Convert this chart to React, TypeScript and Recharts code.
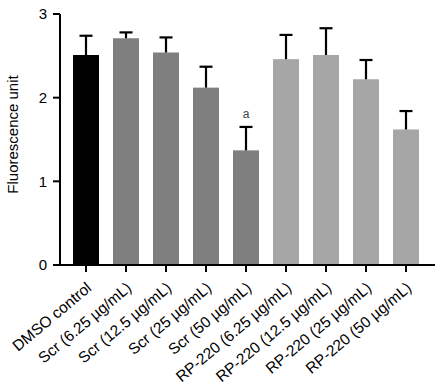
import { BarChart, Bar, XAxis, YAxis, Cell, LabelList } from 'recharts';

const groups = [
  'DMSO control',
  'Scr (6.25 µg/mL)',
  'Scr (12.5 µg/mL)',
  'Scr (25 µg/mL)',
  'Scr (50 µg/mL)',
  'RP-220 (6.25 µg/mL)',
  'RP-220 (12.5 µg/mL)',
  'RP-220 (25 µg/mL)',
  'RP-220 (50 µg/mL)',
];
const means = [2.51, 2.71, 2.54, 2.12, 1.37, 2.46, 2.51, 2.22, 1.62];
const errors = [0.23, 0.07, 0.18, 0.25, 0.28, 0.29, 0.32, 0.23, 0.22];
const marks = ['', '', '', '', 'a', '', '', '', ''];
const colors = ['#000000', '#7f7f7f', '#7f7f7f', '#7f7f7f', '#7f7f7f', '#a6a6a6', '#a6a6a6', '#a6a6a6', '#a6a6a6'];
const yTicks = [0, 1, 2, 3];

const data = groups.map((g, i) => ({ group: g, mean: means[i], err: errors[i], mark: marks[i] }));

const font = '"Liberation Sans", Arial, sans-serif';

// bar with only the upper half of the error bar
function BarWithError(props: any) {
  const { x, y, width, height, fill, payload } = props;
  const pxPerUnit = height / payload.mean;
  const top = y - payload.err * pxPerUnit;
  const cx = x + width / 2;
  return (
    <g>
      <rect x={x} y={y} width={width} height={height} fill={fill} />
      <line x1={cx} x2={cx} y1={y} y2={top} stroke="#000" strokeWidth={2.2} />
      <line x1={cx - 6.5} x2={cx + 6.5} y1={top} y2={top} stroke="#000" strokeWidth={2.2} />
    </g>
  );
}

function MarkLabel(props: any) {
  const { x, y, width, height, index } = props;
  const m = marks[index];
  if (!m) return null;
  const top = y - errors[index] * (height / means[index]);
  return (
    <text x={x + width / 2} y={top - 9} textAnchor="middle" fontSize={12} fill="#444" fontFamily={font}>
      {m}
    </text>
  );
}

function GroupTick(props: any) {
  const { x, y, payload } = props;
  const ax = x + 6.5;
  const ay = y + 15.5;
  return (
    <text
      x={ax}
      y={ay}
      transform={`rotate(-40, ${ax}, ${ay})`}
      textAnchor="end"
      fontSize={15.5}
      fill="#000"
      fontFamily={font}
    >
      {payload.value}
    </text>
  );
}

export default function App() {
  return (
    <div style={{ position: 'absolute', left: 0, top: 0, background: '#fff' }}>
      <BarChart
        width={439}
        height={392}
        data={data}
        margin={{ top: 14, right: 4, bottom: 0, left: 10 }}
        barCategoryGap={7}
      >
        <XAxis
          dataKey="group"
          interval={0}
          height={127}
          padding={{ left: 6, right: 9 }}
          axisLine={{ stroke: '#000', strokeWidth: 2 }}
          tickLine={{ stroke: '#000', strokeWidth: 2 }}
          tickSize={7}
          tick={<GroupTick />}
        />
        <YAxis
          width={50}
          domain={[0, 3]}
          ticks={yTicks}
          axisLine={{ stroke: '#000', strokeWidth: 2 }}
          tickLine={{ stroke: '#000', strokeWidth: 2 }}
          tickSize={7}
          tickMargin={6}
          tick={{ fill: '#000', fontSize: 15, fontFamily: font }}
          label={{
            value: 'Fluorescence unit',
            angle: -90,
            position: 'insideLeft',
            offset: 0,
            dx: 3,
            dy: -5,
            style: { textAnchor: 'middle', fill: '#000', fontSize: 15, fontFamily: font },
          }}
        />
        <Bar dataKey="mean" isAnimationActive={false} shape={<BarWithError />}>
          {data.map((d, i) => (
            <Cell key={d.group} fill={colors[i]} />
          ))}
          <LabelList dataKey="mark" content={<MarkLabel />} />
        </Bar>
      </BarChart>
    </div>
  );
}
